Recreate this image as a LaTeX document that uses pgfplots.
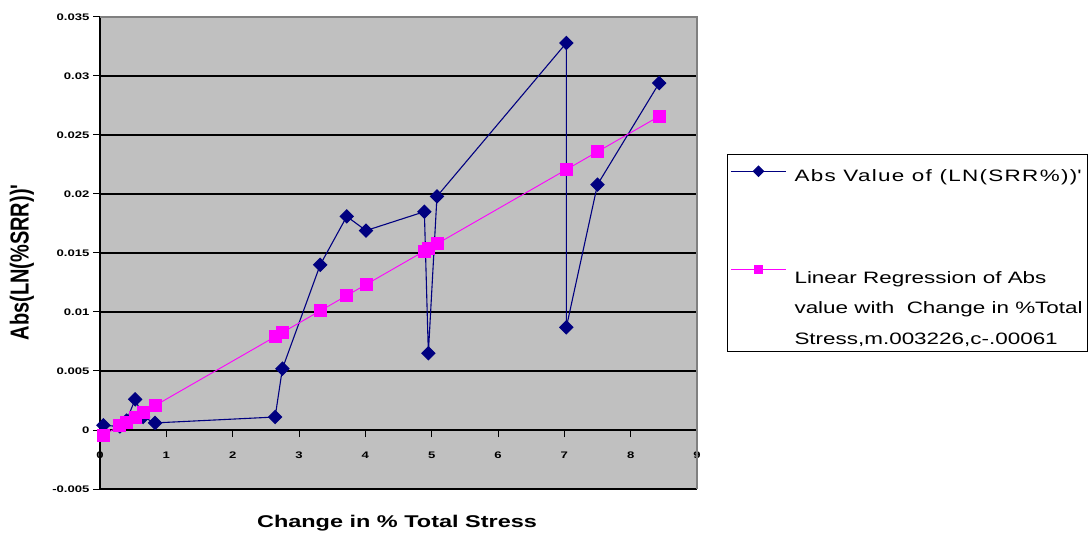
\documentclass[border=0pt]{standalone}
\usepackage{pgfplots}
\pgfplotsset{compat=1.18}
\usepackage{fontspec}
\setmainfont{Liberation Sans}[FakeStretch=1.38]
\newfontfamily\plainfont{Liberation Sans}
\newfontfamily\legfont{Liberation Sans}[FakeStretch=1.36]
\definecolor{navyb}{RGB}{0,0,128}
\definecolor{mag}{RGB}{255,0,255}
\definecolor{plotgray}{RGB}{192,192,192}
\definecolor{bordergray}{RGB}{128,128,128}
\newcommand{\ls}{\rule{0pt}{29pt}\hspace*{6pt}}
\pgfplotsset{
 smalllegend/.style={legend image code/.code={\draw[mark repeat=2,mark phase=2,##1,mark size=3.6pt] plot coordinates {(0pt,0pt)(27.5pt,0pt)(55pt,0pt)};}},
 biglegend/.style={legend image code/.code={\draw[mark repeat=2,mark phase=2,##1,mark size=4.2pt] plot coordinates {(0pt,0pt)(27.5pt,0pt)(55pt,0pt)};}},
}
\begin{document}
\begin{tikzpicture}
\path[use as bounding box] (0,0) rectangle (1089pt,538pt);
\begin{axis}[
 at={(100pt,49pt)}, anchor=south west,
 scale only axis, width=597pt, height=472pt,
 xmin=0, xmax=9, ymin=-0.005, ymax=0.035,
 clip=false,
 axis x line=middle, axis y line=left,
 hide obscured x ticks=false, hide obscured y ticks=false,
 axis line style={-, black, line width=1.3pt},
 axis background/.style={fill=plotgray},
 tick align=outside, major tick length=7pt,
 tick style={black, line width=1pt},
 scaled y ticks=false, scaled x ticks=false,
 xtick={0,1,...,9}, xticklabels={0,1,2,3,4,5,6,7,8,9},
 ytick={-0.005,0,0.005,0.01,0.015,0.02,0.025,0.03,0.035},
 yticklabels={-0.005,0,0.005,0.01,0.015,0.02,0.025,0.03,0.035},
 ymajorgrids, major grid style={black, line width=1.2pt},
 ticklabel style={font=\fontsize{9.5}{11}\selectfont\bfseries},
 xticklabel style={yshift=-11.5pt},
 /pgf/number format/assume math mode=true,
 every axis x label/.style={at={(axis description cs:0.4975,-0.072)}, anchor=center},
 every axis y label/.style={at={(axis description cs:-0.1307,0.48)}, anchor=center, rotate=90},
 xlabel={\fontsize{17}{20}\selectfont\bfseries Change in \% Total Stress},
 ylabel={\scalebox{1}[1.3]{\plainfont\fontsize{20}{22}\selectfont\bfseries Abs(LN(\%SRR))\textquotesingle}},
 legend style={at={(1.0503,0.7097)}, anchor=north west, draw=black, line width=0.8pt, fill=white,
   font=\legfont\fontsize{16.5}{30}\selectfont, inner xsep=3pt, inner ysep=5pt, row sep=0pt,
   nodes={inner ysep=0pt, inner xsep=2pt}},
 legend cell align=left,
 smalllegend,
]
\addplot[navyb, line width=1.1pt, mark=square*, mark size=4.6pt, mark options={solid, rotate=45}] coordinates {
(0.05,0.0004) (0.3,0.0003) (0.4,0.0008) (0.53,0.0026) (0.65,0.0011) (0.83,0.0006)
(2.64,0.0011) (2.75,0.0052) (3.32,0.0140) (3.72,0.0181) (4.01,0.0169) (4.89,0.0185)
(4.95,0.0065) (5.08,0.0198) (7.03,0.0328) (7.03,0.0087) (7.5,0.0208) (8.43,0.0294)
};
\addlegendentry{\rule{0pt}{22pt}\hspace*{6pt}{\addfontfeature{LetterSpace=8}Abs Value of (LN(SRR\%))\textquotesingle}}
\addlegendimage{empty legend}
\addlegendentry{\rule{0pt}{70pt}}
\addplot[mag, line width=0.9pt, mark=square*, mark size=6pt, mark options={solid}, biglegend] coordinates {
(0.05,-0.000449) (0.3,0.000358) (0.4,0.000680) (0.53,0.001100) (0.65,0.001487) (0.83,0.002068)
(2.64,0.007907) (2.75,0.008262) (3.32,0.010100) (3.72,0.011391) (4.01,0.012326) (4.89,0.015165)
(4.95,0.015359) (5.08,0.015778) (7.03,0.022069) (7.5,0.023585) (8.43,0.026585)
};
\addlegendentry{\ls Linear Regression of Abs}
\addlegendimage{empty legend}
\addlegendentry{\ls value with\ \ Change in \%Total}
\addlegendimage{empty legend}
\addlegendentry{\ls Stress,m.003226,c-.00061}
\draw[bordergray, line width=1.5pt] (rel axis cs:0,1) -- (rel axis cs:1,1) -- (rel axis cs:1,0);
\end{axis}
\end{tikzpicture}
\end{document}
